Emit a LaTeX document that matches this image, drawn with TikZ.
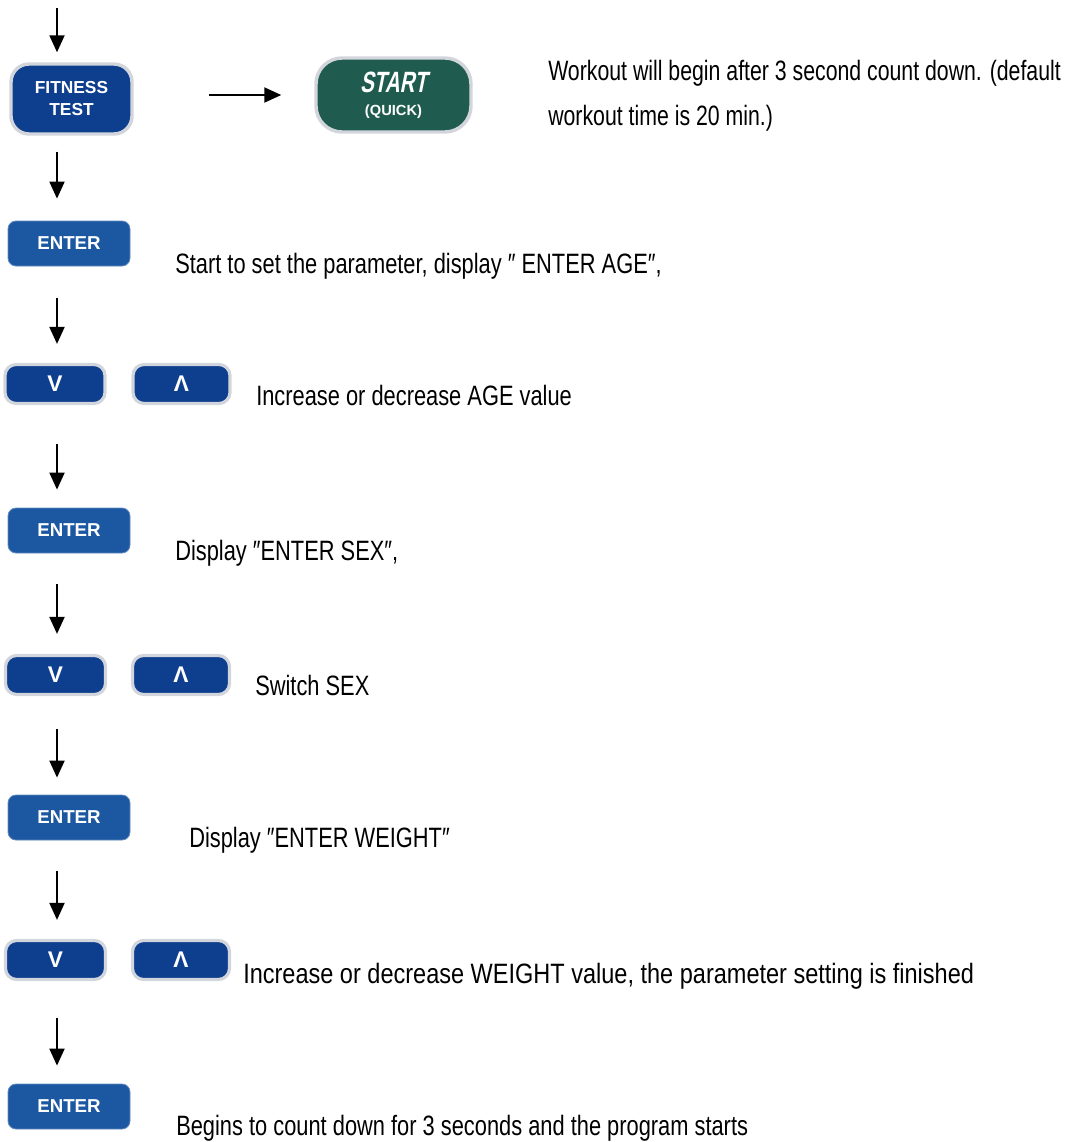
\documentclass[tikz,border=0pt]{standalone}
\usepackage{fontspec}
\setmainfont{Liberation Sans}
\newfontfamily\narrowfont[FakeStretch=0.78]{Liberation Sans}
\newfontfamily\topfont[FakeStretch=0.76]{Liberation Sans}
\newfontfamily\widenarrowfont[FakeStretch=0.84]{Liberation Sans}
\newfontfamily\startfont[FakeStretch=0.7,FakeSlant=0.2]{Liberation Sans Bold}
\usetikzlibrary{arrows.meta}

\newdimen\px
\px=0.75pt

\definecolor{keyblue}{HTML}{1C58A2}
\definecolor{deepblue}{HTML}{0E3F8E}
\definecolor{quickgreen}{HTML}{1F5C4F}
\definecolor{rimgray}{HTML}{D2D6DC}

\begin{document}
\begin{tikzpicture}[x=0.75pt,y=-0.75pt,
  key/.style={rectangle, inner sep=0pt, text=white, font=\bfseries\fontsize{14}{16}\selectfont},
  enterkey/.style={key, fill=keyblue, draw=keyblue!70!white, line width=0.6pt,
    rounded corners=8\px, minimum width=122\px, minimum height=45\px},
  arrowkey/.style={key, fill=deepblue, draw=rimgray, line width=2.4pt,
    rounded corners=11\px, minimum height=39\px, font=\bfseries\fontsize{17}{18}\selectfont},
  note/.style={anchor=base west, inner sep=0pt, text=black,
    font=\narrowfont\fontsize{21}{25}\selectfont},
  flow/.style={draw=black, line width=1.5pt, -{Triangle[width=11.25pt,length=12.75pt]}},
  gap/.style 2 args={shorten <={#1*0.75pt}, shorten >={#2*0.75pt}}]

\useasboundingbox (0,0) rectangle (1064,1142);

% column of the vertical arrows
\coordinate (ax) at (57,0);
\coordinate (top) at (57,3);

% first row: program key and quick start key
\node[key, fill=deepblue, draw=rimgray, line width=2.6pt, rounded corners=18\px,
  minimum width=121\px, minimum height=70\px, align=center,
  font=\bfseries\fontsize{13}{16.5}\selectfont] (fit) at (71.5,99) {FITNESS\\TEST};
\node[key, fill=quickgreen, draw=rimgray, line width=2.6pt, rounded corners=26\px,
  minimum width=155\px, minimum height=74\px, align=center] (start) at (393.5,95)
  {{\startfont\fontsize{22}{22}\selectfont START}\\[1pt]{\bfseries\fontsize{11}{12}\selectfont (QUICK)}};
\node[note, align=left, font=\topfont\fontsize{21}{33.75}\selectfont] (startnote) at (548,125)
  {Workout will begin after 3 second count down. (default\\workout time is 20 min.)};

% setting sequence
\node[enterkey] (enter1) at (69,243.5) {ENTER};
\node[arrowkey, minimum width=100\px] (down1) at (55,384) {V};
\node[arrowkey, minimum width=97\px] (up1) at (181.5,384) {Λ};
\node[enterkey] (enter2) at (69,530.5) {ENTER};
\node[arrowkey, minimum width=100\px] (down2) at (55.5,675) {V};
\node[arrowkey, minimum width=97\px] (up2) at (181,675) {Λ};
\node[enterkey] (enter3) at (69,817.5) {ENTER};
\node[arrowkey, minimum width=100\px] (down3) at (55.5,960) {V};
\node[arrowkey, minimum width=97\px] (up3) at (181,960) {Λ};
\node[enterkey] (enter4) at (69,1106.5) {ENTER};

% descriptions
\node[note] (n1) at (175,273) {Start to set the parameter, display ″ ENTER AGE″,};
\node[note] (n2) at (256,405) {Increase or decrease AGE value};
\node[note] (n3) at (175,560) {Display ″ENTER SEX″,};
\node[note] (n4) at (255,695) {Switch SEX};
\node[note] (n5) at (189,847) {Display ″ENTER WEIGHT″};
\node[note, font=\widenarrowfont\fontsize{21}{25}\selectfont] (n6) at (243,983)
  {Increase or decrease WEIGHT value, the parameter setting is finished};
\node[note] (n7) at (176,1135) {Begins to count down for 3 seconds and the program starts};

% connectors
\draw[flow, gap={5}{10}] (top) -- (fit.north -| ax);
\draw[flow, gap={75}{33}] (fit.east |- start.west) -- (start.west);
\draw[flow, gap={16}{22}] (fit.south -| ax) -- (enter1.north -| ax);
\draw[flow, gap={32}{19}] (enter1.south -| ax) -- (down1.north -| ax);
\draw[flow, gap={39}{18}] (down1.south -| ax) -- (enter2.north -| ax);
\draw[flow, gap={31}{20}] (enter2.south -| ax) -- (down2.north -| ax);
\draw[flow, gap={33}{17}] (down2.south -| ax) -- (enter3.north -| ax);
\draw[flow, gap={31}{19}] (enter3.south -| ax) -- (down3.north -| ax);
\draw[flow, gap={37}{18}] (down3.south -| ax) -- (enter4.north -| ax);
\end{tikzpicture}
\end{document}
